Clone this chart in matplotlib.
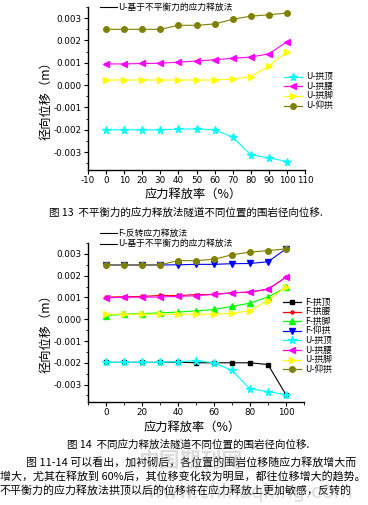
import matplotlib
matplotlib.use("Agg")
import matplotlib.pyplot as plt
from matplotlib.ticker import MultipleLocator, FormatStrFormatter
from matplotlib.lines import Line2D

plt.rcParams['font.family'] = ['Noto Sans CJK SC', 'DejaVu Sans']
plt.rcParams['axes.unicode_minus'] = False

W, H = 368, 505

# ---------------- data ----------------
release = [0, 10, 20, 30, 40, 50, 60, 70, 80, 90, 100]

# Figure 13 (U method)
u13_crown = [-0.00200, -0.00200, -0.00200, -0.00200, -0.00197, -0.00196, -0.00200, -0.00233, -0.00312, -0.00326, -0.00342]
u13_haunch = [0.00095, 0.00095, 0.00097, 0.00098, 0.00103, 0.00108, 0.00114, 0.00120, 0.00126, 0.00140, 0.00194]
u13_foot = [0.00023, 0.00023, 0.00023, 0.00023, 0.00023, 0.00023, 0.00023, 0.00027, 0.00038, 0.00085, 0.00150]
u13_invert = [0.00250, 0.00250, 0.00250, 0.00250, 0.00268, 0.00268, 0.00274, 0.00295, 0.00309, 0.00315, 0.00323]

# Figure 14 (F and U methods)
f14_crown = [-0.00198, -0.00198, -0.00198, -0.00198, -0.00197, -0.00200, -0.00200, -0.00200, -0.00200, -0.00208, -0.00347]
f14_haunch = [0.00102, 0.00103, 0.00105, 0.00109, 0.00109, 0.00113, 0.00114, 0.00122, 0.00124, 0.00138, 0.00193]
f14_foot = [0.00017, 0.00023, 0.00026, 0.00029, 0.00033, 0.00038, 0.00045, 0.00059, 0.00074, 0.00102, 0.00146]
f14_invert = [0.00249, 0.00249, 0.00249, 0.00249, 0.00250, 0.00252, 0.00252, 0.00255, 0.00256, 0.00264, 0.00323]
u14_crown = [-0.00198, -0.00198, -0.00198, -0.00198, -0.00195, -0.00190, -0.00200, -0.00235, -0.00320, -0.00332, -0.00347]
u14_haunch = [0.00098, 0.00101, 0.00101, 0.00102, 0.00105, 0.00108, 0.00114, 0.00120, 0.00126, 0.00138, 0.00193]
u14_foot = [0.00023, 0.00023, 0.00023, 0.00023, 0.00023, 0.00023, 0.00023, 0.00027, 0.00039, 0.00086, 0.00149]
u14_invert = [0.00249, 0.00249, 0.00249, 0.00250, 0.00269, 0.00269, 0.00275, 0.00296, 0.00308, 0.00315, 0.00323]

labels13 = ['U-拱顶', 'U-拱腰', 'U-拱脚', 'U-仰拱']
labels14 = ['F-拱顶', 'F-拱腰', 'F-拱脚', 'F-仰拱', 'U-拱顶', 'U-拱腰', 'U-拱脚', 'U-仰拱']
xticks13 = [-10, 0, 10, 20, 30, 40, 50, 60, 70, 80, 90, 100, 110]
xticks14 = [0, 20, 40, 60, 80, 100]

ylabel = '径向位移（m）'
xlabel = '应力释放率（%）'
cap13 = '图 13  不平衡力的应力释放法隧道不同位置的围岩径向位移.'
cap14 = '图 14  不同应力释放法隧道不同位置的围岩径向位移.'
para = ['图 11-14 可以看出，加衬砌后，各位置的围岩位移随应力释放增大而',
        '增大，尤其在释放到 60%后，其位移变化较为明显，都往位移增大的趋势。',
        '不平衡力的应力释放法拱顶以后的位移将在应力释放上更加敏感，反转的']
top13 = ['U-基于不平衡力的应力释放法']
top14 = ['F-反转应力释放法', 'U-基于不平衡力的应力释放法']

styles_U = [('#00FFFF', '*', 5.5), ('#FF00FF', '<', 4), ('#FFFF00', '>', 4), ('#808000', 'o', 4)]
styles_F = [('#000000', 's', 2.5), ('#FF0000', 'o', 2.2), ('#00FF00', '^', 4), ('#0000FF', 'v', 4)]

fig = plt.figure(figsize=(W / 100, H / 100), dpi=100)


def fx(px):
    return px / W


def fy(py):
    return 1 - py / H


def style_axes(ax, xmaj, xminor):
    for s in ['top', 'right']:
        ax.spines[s].set_visible(False)
    for s in ['left', 'bottom']:
        ax.spines[s].set_linewidth(1.0)
    ax.tick_params(direction='out', length=3, width=0.8, labelsize=6.3, pad=1.5)
    ax.tick_params(which='minor', direction='out', length=1.8, width=0.6)
    ax.yaxis.set_major_locator(MultipleLocator(0.001))
    ax.yaxis.set_minor_locator(MultipleLocator(0.0005))
    ax.yaxis.set_major_formatter(FormatStrFormatter('%.3f'))
    ax.set_xticks(xmaj)
    if xminor:
        ax.xaxis.set_minor_locator(MultipleLocator(xminor))
    ax.set_xlim(-10, 110)
    ax.set_ylim(-0.0038, 0.0035)
    for lab in ax.get_xticklabels() + ax.get_yticklabels():
        lab.set_family('DejaVu Sans')


# ---------- Chart 1 ----------
ax1 = fig.add_axes([fx(88), fy(170), fx(305) - fx(88), fy(7) - fy(170)])
for ys, (c, m, ms) in zip([u13_crown, u13_haunch, u13_foot, u13_invert], styles_U):
    ax1.plot(release, ys, color=c, marker=m, markersize=ms, lw=0.8)
style_axes(ax1, xticks13, None)

# ---------- Chart 2 ----------
ax2 = fig.add_axes([fx(88), fy(402), fx(304) - fx(88), fy(243) - fy(402)])
for ys, (c, m, ms) in zip([f14_crown, f14_haunch, f14_foot, f14_invert], styles_F):
    ax2.plot(release, ys, color=c, marker=m, markersize=ms, lw=0.8)
for ys, (c, m, ms) in zip([u14_crown, u14_haunch, u14_foot, u14_invert], styles_U):
    ax2.plot(release, ys, color=c, marker=m, markersize=ms, lw=0.8)
style_axes(ax2, xticks14, 10)


def legend_block(x0, y0, dy, styles, labels):
    for i, ((c, m, ms), lab) in enumerate(zip(styles, labels)):
        y = fy(y0 + i * dy)
        fig.add_artist(Line2D([fx(x0), fx(x0 + 18)], [y, y], color=c, lw=0.9,
                              marker=m, markersize=ms, markevery=[1] if False else None))
        fig.add_artist(Line2D([fx(x0 + 9)], [y], color=c, marker=m, markersize=ms))
        fig.text(fx(x0 + 22), y, lab, fontsize=6.3, va='center', ha='left')


# right-side legends
def legend_lines(x0, y0, dy, styles, labels):
    for i, ((c, m, ms), lab) in enumerate(zip(styles, labels)):
        y = fy(y0 + i * dy)
        fig.add_artist(Line2D([fx(x0), fx(x0 + 18)], [y, y], color=c, lw=0.9))
        fig.add_artist(Line2D([fx(x0 + 9)], [y], color=c, marker=m, markersize=ms, lw=0))
        fig.text(fx(x0 + 22), y, lab, fontsize=6.3, va='center', ha='left')


legend_lines(284, 76.5, 9.7, styles_U, labels13)
legend_lines(283, 302, 9.6, styles_F + styles_U, labels14)

# top group legends
for i, t in enumerate(top13):
    y = fy(7 + i * 10)
    fig.add_artist(Line2D([fx(100), fx(117)], [y, y], color='black', lw=0.8))
    fig.text(fx(118), y, t, fontsize=6.3, va='center', ha='left')
for i, t in enumerate(top14):
    y = fy(233 + i * 10.5)
    fig.add_artist(Line2D([fx(100), fx(117)], [y, y], color='black', lw=0.8))
    fig.text(fx(118), y, t, fontsize=6.3, va='center', ha='left')

# axis labels
fig.text(fx(46), fy(98), ylabel, rotation=90, fontsize=8.8, va='center', ha='center')
fig.text(fx(46), fy(331), ylabel, rotation=90, fontsize=8.8, va='center', ha='center')
fig.text(fx(193), fy(194), xlabel, fontsize=8.8, va='center', ha='center')
fig.text(fx(192), fy(427), xlabel, fontsize=8.8, va='center', ha='center')

# captions
fig.text(fx(186), fy(213), cap13, fontsize=7.6, va='center', ha='center')
fig.text(fx(188), fy(445), cap14, fontsize=7.6, va='center', ha='center')

# paragraph
fig.text(fx(26), fy(462), para[0], fontsize=7.9, va='center', ha='left')
fig.text(fx(0), fy(476), para[1], fontsize=7.9, va='center', ha='left')
fig.text(fx(0), fy(490), para[2], fontsize=7.9, va='center', ha='left')

# faint watermark
fig.text(fx(190), fy(460), '中国期刊网', fontsize=15, color='#999999', alpha=0.35,
         va='center', ha='center', fontweight='bold')
fig.text(fx(250), fy(492), 'www.chinaqking.com', fontsize=14, color='#999999', alpha=0.35,
         va='center', ha='center', family='DejaVu Sans')

fig.savefig('out.png', dpi=100)
